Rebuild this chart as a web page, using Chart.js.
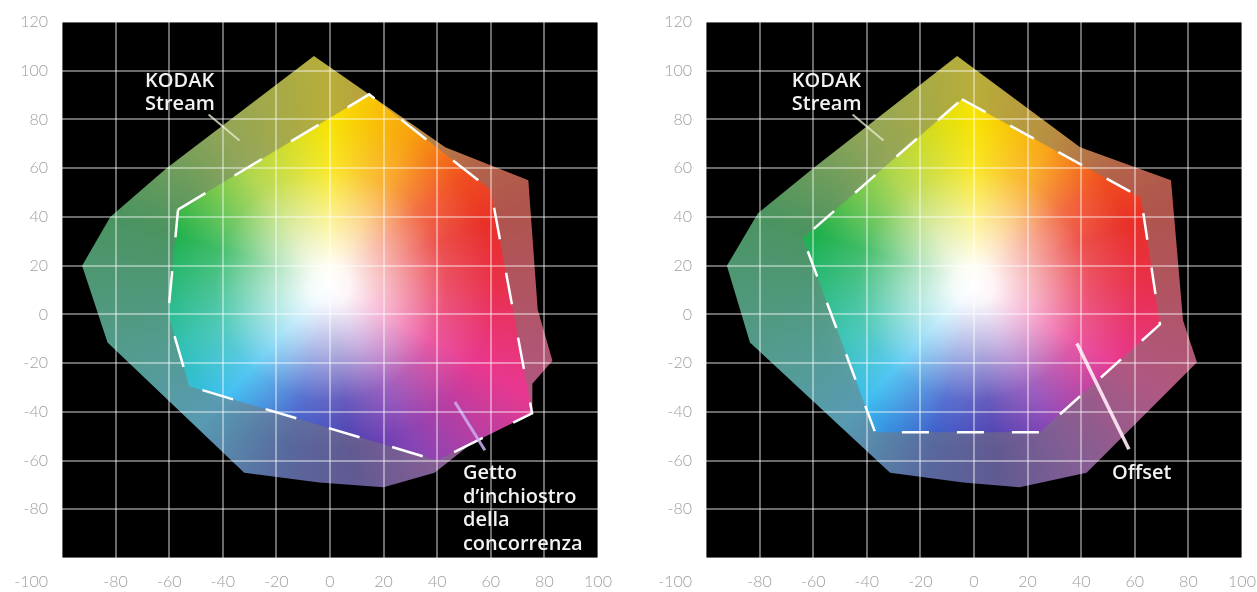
<!DOCTYPE html>
<html><head><meta charset="utf-8">
<script src="https://cdn.jsdelivr.net/npm/chart.js@4"></script>
<style>
html,body{margin:0;padding:0;background:#fff;width:1257px;height:592px;overflow:hidden}
.panel{position:absolute;top:0;height:592px}
#p1{left:0;width:614px}
#p2{left:628px;width:629px}
</style></head><body>
<div class="panel" id="p1"><canvas id="c1"></canvas></div>
<div class="panel" id="p2"><canvas id="c2"></canvas></div>
<script>
// ---- data (a*, b*) ----
const xTickValues = [-100, -80, -60, -40, -20, 0, 20, 40, 60, 80, 100];
const yTickValues = [-100, -80, -60, -40, -20, 0, 20, 40, 60, 80, 100, 120];
const whitePoint = [0, 12];

const kodakStreamGamutLeft = [
  [-6, 106], [43, 68.6], [74, 55], [77.5, 2], [83, -19], [75.5, -28.5], [75.5, -40.5],
  [54, -52], [39, -65], [20, -71], [-4, -69], [-32, -65], [-83, -11.5], [-92.5, 20],
  [-82, 40], [-61, 60], [-6, 106]
];
const competitorInkjetGamut = [
  [-56.7, 43], [14.6, 90.3], [60, 51], [75.4, -40.6], [40, -60], [-52.5, -29.5], [-60.4, 0], [-56.7, 43]
];
const kodakStreamGamutRight = [
  [-6.3, 106], [39.6, 68.6], [73.5, 55], [78, -2.5], [83.2, -19.7], [42, -65], [17, -71],
  [-4, -69], [-31.3, -65], [-83.6, -11.5], [-92.2, 20], [-80.6, 41.5], [-60, 60], [-6.3, 106]
];
const offsetGamut = [
  [-4.5, 88.3], [62.3, 48], [69.4, -4.1], [24.6, -48.4], [-36.9, -48.4], [-63.8, 31.2], [-4.5, 88.3]
];
const kodakLeader = [[-45.3, 82], [-33.8, 71.4]];
const competitorLeader = [[46.6, -36], [57.8, -55.8]];
const offsetLeader = [[38.4, -11.9], [57.8, -55.4]];

const kodakLabel = ['KODAK', 'Stream'];
const competitorLabel = ['Getto', 'd\u2019inchiostro', 'della', 'concorrenza'];
const offsetLabel = ['Offset'];

// ---- styling ----
const HUE_STOPS = [
  [0.00, '#e8304c'], [0.08, '#e8388f'], [0.17, '#8a44b4'], [0.23, '#4a3cb0'],
  [0.29, '#3858c8'], [0.37, '#38bdf0'], [0.44, '#30c0b0'], [0.55, '#1eb04c'],
  [0.65, '#a8d23c'], [0.75, '#f8e400'], [0.83, '#f8a010'], [0.89, '#f05020'],
  [0.94, '#e83028'], [1.00, '#e8304c']
];
const toXY = arr => arr.map(p => ({x: p[0], y: p[1]}));

function colorField(chart, muted) {
  const w = chart.width, h = chart.height;
  const ca = chart.chartArea;
  const key = (muted ? 'm' : 'v') + w + 'x' + h + ':' + ca.left + ',' + ca.top + ',' + ca.right;
  chart.$fields = chart.$fields || {};
  if (chart.$fields[key]) return chart.$fields[key];
  const off = document.createElement('canvas');
  off.width = w; off.height = h;
  const g = off.getContext('2d');
  const cx = chart.scales.x.getPixelForValue(whitePoint[0]);
  const cy = chart.scales.y.getPixelForValue(whitePoint[1]);
  const conic = g.createConicGradient(0, cx, cy);
  HUE_STOPS.forEach(s => conic.addColorStop(s[0], s[1]));
  g.fillStyle = conic; g.fillRect(0, 0, w, h);
  const r = 165;
  const rad = g.createRadialGradient(cx, cy, 0, cx, cy, r);
  rad.addColorStop(0, 'rgba(255,255,255,1)');
  rad.addColorStop(0.12, 'rgba(255,255,255,0.95)');
  rad.addColorStop(0.4, 'rgba(255,255,255,0.58)');
  rad.addColorStop(0.7, 'rgba(255,255,255,0.16)');
  rad.addColorStop(1, 'rgba(255,255,255,0)');
  g.fillStyle = rad; g.fillRect(0, 0, w, h);
  if (muted) { g.fillStyle = 'rgba(120,120,115,0.5)'; g.fillRect(0, 0, w, h); }
  const p = chart.ctx.createPattern(off, 'no-repeat');
  chart.$fields[key] = p;
  return p;
}
const fieldColor = muted => ctx => (ctx.chart.chartArea ? colorField(ctx.chart, muted) : 'rgba(0,0,0,0)');

const TICK_FONT = {family: 'Lato, "DejaVu Sans", sans-serif', size: 16, weight: '300'};
const LABEL_FONT = '600 20px "Open Sans", "DejaVu Sans", sans-serif';

const plotBg = {
  id: 'plotBg',
  beforeDraw(chart) {
    const {ctx, chartArea: a} = chart;
    ctx.save(); ctx.fillStyle = '#000';
    ctx.fillRect(a.left, a.top, a.right - a.left, a.bottom - a.top);
    ctx.restore();
  }
};
const textLayer = {
  id: 'textLayer',
  afterDraw(chart, args, opts) {
    const {ctx} = chart;
    const xs = chart.scales.x, ys = chart.scales.y;
    ctx.save();
    ctx.font = `${TICK_FONT.weight} ${TICK_FONT.size}px ${TICK_FONT.family}`;
    ctx.fillStyle = '#9d9d9d';
    ctx.textAlign = 'right'; ctx.textBaseline = 'middle';
    ctx.fillText('-100', ys.right - 14, xs.top + 24);
    ctx.font = LABEL_FONT;
    ctx.fillStyle = '#f2f2f2';
    ctx.textAlign = 'left'; ctx.textBaseline = 'alphabetic';
    (opts.items || []).forEach(it => {
      const x = xs.getPixelForValue(it.at[0]);
      const y = ys.getPixelForValue(it.at[1]);
      it.lines.forEach((t, i) => ctx.fillText(t, x, y + i * it.lh));
    });
    ctx.restore();
  }
};

function makeChart(id, yWidth, padRight, outer, inner, dash, leaders, items) {
  const datasets = [
    {data: toXY(outer), order: 5, fill: 'shape', backgroundColor: fieldColor(true),
     borderWidth: 0, borderColor: 'rgba(0,0,0,0)', pointRadius: 0, tension: 0},
    {data: toXY(inner), order: 4, fill: 'shape', backgroundColor: fieldColor(false),
     borderColor: '#ffffff', borderWidth: 2.5, borderDash: dash, borderJoinStyle: 'miter',
     pointRadius: 0, tension: 0}
  ];
  leaders.forEach((l, i) => datasets.push({
    data: toXY(l.pts), order: 3 - i, fill: false, borderColor: l.color, borderWidth: l.w,
    pointRadius: 0, tension: 0
  }));
  return new Chart(document.getElementById(id), {
    type: 'line',
    data: {datasets},
    plugins: [plotBg, textLayer],
    options: {
      responsive: true, maintainAspectRatio: false, animation: false, events: [],
      layout: {padding: {top: 22, right: padRight, left: 0, bottom: 0}},
      plugins: {legend: {display: false}, tooltip: {enabled: false}, textLayer: {items}},
      scales: {
        x: {
          type: 'linear', min: -100, max: 100,
          afterBuildTicks: ax => { ax.ticks = xTickValues.map(v => ({value: v})); },
          afterFit: s => { s.height = 34; s.paddingLeft = 0; s.paddingRight = 0; },
          grid: {color: 'rgba(255,255,255,0.42)', lineWidth: 2, z: 1, drawTicks: false},
          border: {display: false},
          ticks: {font: TICK_FONT, color: '#9d9d9d', padding: 14, autoSkip: false, maxRotation: 0,
                  callback: v => (v === -100 ? '' : String(v))}
        },
        y: {
          type: 'linear', min: -100, max: 120,
          afterBuildTicks: ax => { ax.ticks = yTickValues.map(v => ({value: v})); },
          afterFit: s => { s.width = yWidth; s.paddingTop = 0; s.paddingBottom = 0; },
          grid: {color: 'rgba(255,255,255,0.42)', lineWidth: 2, z: 1, drawTicks: false},
          border: {display: false},
          ticks: {font: TICK_FONT, color: '#9d9d9d', padding: 14, autoSkip: false,
                  callback: v => (v === -100 ? '' : String(v))}
        }
      }
    }
  });
}

makeChart('c1', 62, 16, kodakStreamGamutLeft, competitorInkjetGamut, [32, 34],
  [{pts: kodakLeader, color: 'rgba(225,235,205,0.8)', w: 2},
   {pts: competitorLeader, color: 'rgba(205,175,245,0.85)', w: 3}],
  [{lines: kodakLabel, at: [-69, 93.2], lh: 23},
   {lines: competitorLabel, at: [49.6, -67.7], lh: 23.5}]);

makeChart('c2', 78, 15, kodakStreamGamutRight, offsetGamut, [27, 28],
  [{pts: kodakLeader, color: 'rgba(225,235,205,0.8)', w: 2},
   {pts: offsetLeader, color: 'rgba(255,232,245,0.92)', w: 3.5}],
  [{lines: kodakLabel, at: [-68, 93.2], lh: 23},
   {lines: offsetLabel, at: [51.5, -67.7], lh: 23}]);
</script>
</body></html>
